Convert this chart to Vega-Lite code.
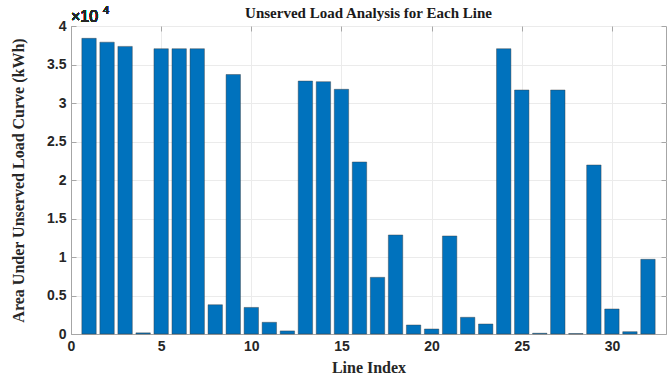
{
  "$schema": "https://vega.github.io/schema/vega-lite/v6.json",
  "width": 595,
  "height": 308,
  "autosize": "none",
  "padding": {"left": 71, "top": 26, "right": 1, "bottom": 47},
  "background": "white",
  "config": {
    "view": {"stroke": "#a6a6a6", "strokeWidth": 1},
    "axis": {
      "labelFont": "Liberation Sans",
      "labelFontWeight": "bold",
      "labelFontSize": 14,
      "labelColor": "#262626",
      "titleFont": "Liberation Serif",
      "titleFontWeight": "bold",
      "titleFontSize": 16,
      "titleColor": "#262626",
      "domainColor": "#a6a6a6",
      "tickColor": "#a6a6a6",
      "gridColor": "#ebebeb",
      "gridWidth": 1
    }
  },
  "title": {
    "text": "Unserved Load Analysis for Each Line",
    "font": "Liberation Serif",
    "fontSize": 15,
    "fontWeight": "bold",
    "color": "#1a1a1a",
    "offset": -16,
    "anchor": "middle"
  },
  "data": {
    "values": [
      {"line": 1, "area": 38400},
      {"line": 2, "area": 37900},
      {"line": 3, "area": 37350},
      {"line": 4, "area": 150},
      {"line": 5, "area": 37050},
      {"line": 6, "area": 37050},
      {"line": 7, "area": 37050},
      {"line": 8, "area": 3800},
      {"line": 9, "area": 33700},
      {"line": 10, "area": 3450},
      {"line": 11, "area": 1520},
      {"line": 12, "area": 400},
      {"line": 13, "area": 32850},
      {"line": 14, "area": 32770},
      {"line": 15, "area": 31780},
      {"line": 16, "area": 22340},
      {"line": 17, "area": 7360},
      {"line": 18, "area": 12860},
      {"line": 19, "area": 1170},
      {"line": 20, "area": 650},
      {"line": 21, "area": 12730},
      {"line": 22, "area": 2170},
      {"line": 23, "area": 1300},
      {"line": 24, "area": 37050},
      {"line": 25, "area": 31690},
      {"line": 26, "area": 100},
      {"line": 27, "area": 31690},
      {"line": 28, "area": 50},
      {"line": 29, "area": 21950},
      {"line": 30, "area": 3250},
      {"line": 31, "area": 300},
      {"line": 32, "area": 9700}
    ]
  },
  "layer": [
    {
      "mark": {"type": "bar", "size": 14.4, "fill": "#0072BD", "stroke": "#3a3a3a", "strokeWidth": 0.6, "strokeOpacity": 0.7},
      "encoding": {
        "x": {
          "field": "line", "type": "quantitative",
          "scale": {"domain": [0, 33], "nice": false, "zero": false, "padding": 0},
          "axis": {"orient": "bottom", "title": "Line Index", "values": [0, 5, 10, 15, 20, 25, 30], "grid": true, "tickSize": -5, "labelPadding": 10, "titlePadding": 6, "labelFlush": false}
        },
        "y": {
          "field": "area", "type": "quantitative",
          "scale": {"domain": [0, 40000], "nice": false, "padding": 0},
          "axis": {"orient": "left", "title": "Area Under Unserved Load Curve (kWh)", "values": [0, 5000, 10000, 15000, 20000, 25000, 30000, 35000, 40000], "labelExpr": "datum.value / 10000", "grid": true, "tickSize": -5, "labelPadding": 10, "titlePadding": 20, "labelFlush": false}
        }
      }
    },
    {
      "mark": {"type": "text", "align": "left", "baseline": "alphabetic", "dy": -4, "font": "Liberation Sans", "fontSize": 16, "fontWeight": "normal", "color": "#262626"},
      "encoding": {
        "x": {"datum": 0, "type": "quantitative", "axis": null},
        "y": {"datum": 40000, "type": "quantitative", "axis": null},
        "text": {"value": "×10"}
      }
    },
    {
      "mark": {"type": "text", "align": "left", "baseline": "alphabetic", "dx": 32, "dy": -12, "font": "Liberation Sans", "fontSize": 11, "fontWeight": "normal", "color": "#262626"},
      "encoding": {
        "x": {"datum": 0, "type": "quantitative", "axis": null},
        "y": {"datum": 40000, "type": "quantitative", "axis": null},
        "text": {"value": "4"}
      }
    },
    {
      "mark": {"type": "rule", "opacity": 0},
      "encoding": {
        "x": {"datum": 0, "type": "quantitative", "axis": {"orient": "top", "values": [0, 5, 10, 15, 20, 25, 30], "labels": false, "title": null, "grid": false, "tickSize": -5, "domain": false}},
        "y": {"datum": 0, "type": "quantitative", "axis": {"orient": "right", "values": [0, 5000, 10000, 15000, 20000, 25000, 30000, 35000, 40000], "labels": false, "title": null, "grid": false, "tickSize": -5, "domain": false}}
      }
    }
  ],
  "resolve": {"axis": {"x": "independent", "y": "independent"}}
}
